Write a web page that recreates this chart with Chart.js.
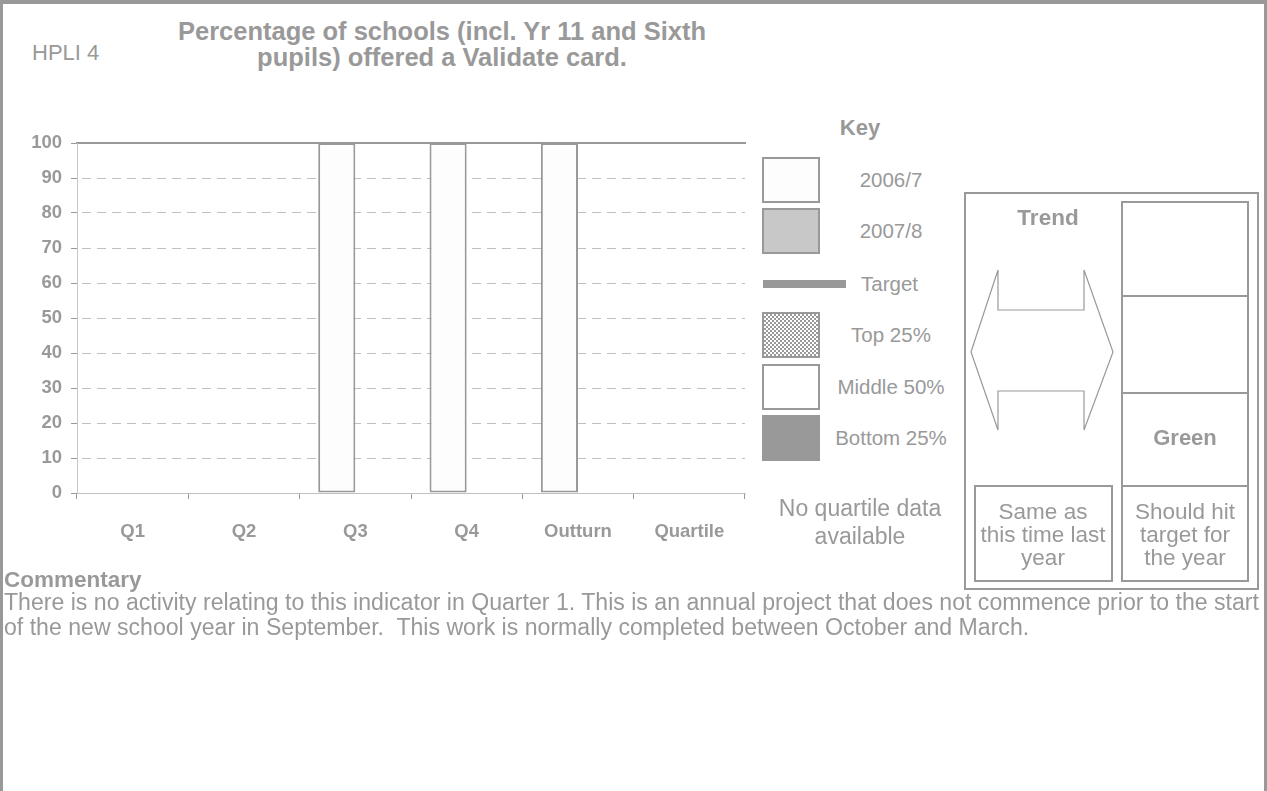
<!DOCTYPE html>
<html>
<head>
<meta charset="utf-8">
<script src="https://cdn.jsdelivr.net/npm/chart.js@4.4.1/dist/chart.umd.min.js"></script>
<style>
  html, body { margin: 0; padding: 0; background: #fff; }
  body {
    width: 1267px; height: 791px; position: relative; overflow: hidden;
    font-family: "Liberation Sans", Arial, sans-serif; color: #999;
  }
  .frame {
    position: absolute; left: 0; top: 0; width: 1261px; height: 791px;
    border: 3px solid #999; border-top-width: 4px; border-bottom: none;
  }
  .t { position: absolute; white-space: nowrap; }
  .c { transform: translate(-50%, -50%); text-align: center; }
  .m { transform: translateY(-50%); }
  .b { font-weight: bold; }
  #chartWrap { position: absolute; left: 0; top: 100px; width: 760px; height: 460px; }
  .sw {
    position: absolute; left: 762px; width: 58px; height: 46px;
    box-sizing: border-box; border: 2px solid #999; background: #fff;
  }
  .box { position: absolute; box-sizing: border-box; border: 2px solid #999; }
</style>
</head>
<body>
<div class="frame"></div>

<div class="t m" style="left:32px;top:53px;font-size:22px">HPLI 4</div>
<div class="t c b" style="left:442px;top:44px;font-size:25.5px;line-height:26px">
  Percentage of schools (incl. Yr 11 and Sixth<br>pupils) offered a Validate card.
</div>

<div id="chartWrap"><canvas id="chart" width="760" height="460"></canvas></div>

<div id="key"></div>

<!-- trend panel -->
<div class="box" style="left:964px;top:192px;width:295px;height:398px"></div>
<div class="box" style="left:1121px;top:201px;width:128px;height:96px"></div>
<div class="box" style="left:1121px;top:295px;width:128px;height:99px"></div>
<div class="box" style="left:1121px;top:392px;width:128px;height:95px"></div>
<div class="box" style="left:1121px;top:485px;width:128px;height:97px"></div>
<div class="box" style="left:974px;top:485px;width:139px;height:97px"></div>
<svg style="position:absolute;left:0;top:0" width="1267" height="791">
  <polygon points="971,352 998,270 998,310 1084,310 1084,270 1113,352 1084,430 1084,391 998,391 998,430"
           fill="#fff" stroke="#999" stroke-width="1.2"/>
</svg>
<div class="t c b" style="left:1048px;top:218px;font-size:22.5px">Trend</div>
<div class="t c b" style="left:1185px;top:438px;font-size:22px">Green</div>
<div class="t c" style="left:1043px;top:534px;font-size:22.5px;line-height:23px">Same as<br>this time last<br>year</div>
<div class="t c" style="left:1185px;top:534px;font-size:22.5px;line-height:23px">Should hit<br>target for<br>the year</div>

<div class="t c" style="left:860px;top:522px;font-size:23px;line-height:28px">No quartile data<br>available</div>

<div class="t m b" style="left:4px;top:580px;font-size:22.5px">Commentary</div>
<div class="t" style="left:4px;top:590px;font-size:23.1px;line-height:25px">There is no activity relating to this indicator in Quarter 1. This is an annual project that does not commence prior to the start<br>of the new school year in September.&nbsp; This work is normally completed between October and March.</div>

<script>
// quarterly figures
const categories = ['Q1', 'Q2', 'Q3', 'Q4', 'Outturn', 'Quartile'];
const values2006 = [null, null, 100, 100, 100, null];
const values2007 = [null, null, null, null, null, null];
const yMin = 0;
const yMax = 100;
const yStep = 10;

// key entries
const keyLabels = ['2006/7', '2007/8', 'Target', 'Top 25%', 'Middle 50%', 'Bottom 25%'];

const grey = '#999';
const tickFont = { family: '"Liberation Sans", Arial, sans-serif', size: 18.5, weight: 'bold' };

// ================= KEY =================
function buildKey() {
  const key = document.getElementById('key');
  const rows = [
    { top: 157, style: 'background:#fdfdfd' },
    { top: 208, style: 'background:#c8c8c8' },
    { top: 280, line: true },
    { top: 312, style: 'background:repeating-conic-gradient(#999 0 25%, #fff 0 50%) 0 0/4px 4px' },
    { top: 364, style: 'background:#fff' },
    { top: 415, style: 'background:#999' }
  ];
  let html = '<div class="t c b" style="left:860px;top:128px;font-size:22px">Key</div>';
  rows.forEach((r, i) => {
    if (r.line) {
      html += `<div style="position:absolute;left:763px;top:${r.top}px;width:83px;height:8px;background:${grey}"></div>`;
      html += `<div class="t m" style="left:861px;top:284px;font-size:20.5px">${keyLabels[i]}</div>`;
    } else {
      html += `<div class="sw" style="top:${r.top}px;${r.style}"></div>`;
      html += `<div class="t c" style="left:891px;top:${r.top + 23}px;font-size:20.5px">${keyLabels[i]}</div>`;
    }
  });
  key.innerHTML = html;
}
buildKey();

// ================= CHART =================
new Chart(document.getElementById('chart'), {
  type: 'bar',
  data: {
    labels: categories,
    datasets: [
      {
        label: '2006/7',
        data: values2006,
        backgroundColor: '#fdfdfd',
        borderColor: grey,
        borderWidth: 2,
        borderSkipped: false
      },
      {
        label: '2007/8',
        data: values2007,
        backgroundColor: '#c8c8c8',
        borderColor: grey,
        borderWidth: 2,
        borderSkipped: false
      }
    ]
  },
  options: {
    responsive: false,
    animation: false,
    devicePixelRatio: 1,
    categoryPercentage: 0.667,
    barPercentage: 1,
    layout: { padding: { top: 43, right: 15, left: 0, bottom: 0 } },
    plugins: { legend: { display: false }, tooltip: { enabled: false } },
    scales: {
      x: {
        offset: true,
        grid: { drawOnChartArea: false, tickLength: 6, tickColor: grey, offset: true },
        border: { color: '#c0c0c0', width: 1 },
        ticks: { color: grey, font: tickFont, padding: 22, maxRotation: 0 },
        afterFit: s => { s.height = 67 }
      },
      // solid line along the top of the plot
      xTop: {
        type: 'category',
        position: 'top',
        grid: { drawOnChartArea: false, drawTicks: false },
        ticks: { display: false },
        border: { color: grey, width: 2 },
        afterFit: s => { s.height = 0 }
      },
      y: {
        min: yMin,
        max: yMax,
        ticks: { stepSize: yStep, color: grey, font: tickFont, padding: 9 },
        grid: {
          color: ctx => (ctx.tick && ctx.tick.value === yMax) ? 'rgba(0,0,0,0)' : '#c0c0c0',
          tickColor: grey,
          tickLength: 6,
          lineWidth: 1
        },
        border: { color: '#c8c8c8', width: 1, dash: [9, 6], dashOffset: 11 },
        afterFit: s => { s.width = 77 }
      }
    }
  }
})
</script>
</body>
</html>
